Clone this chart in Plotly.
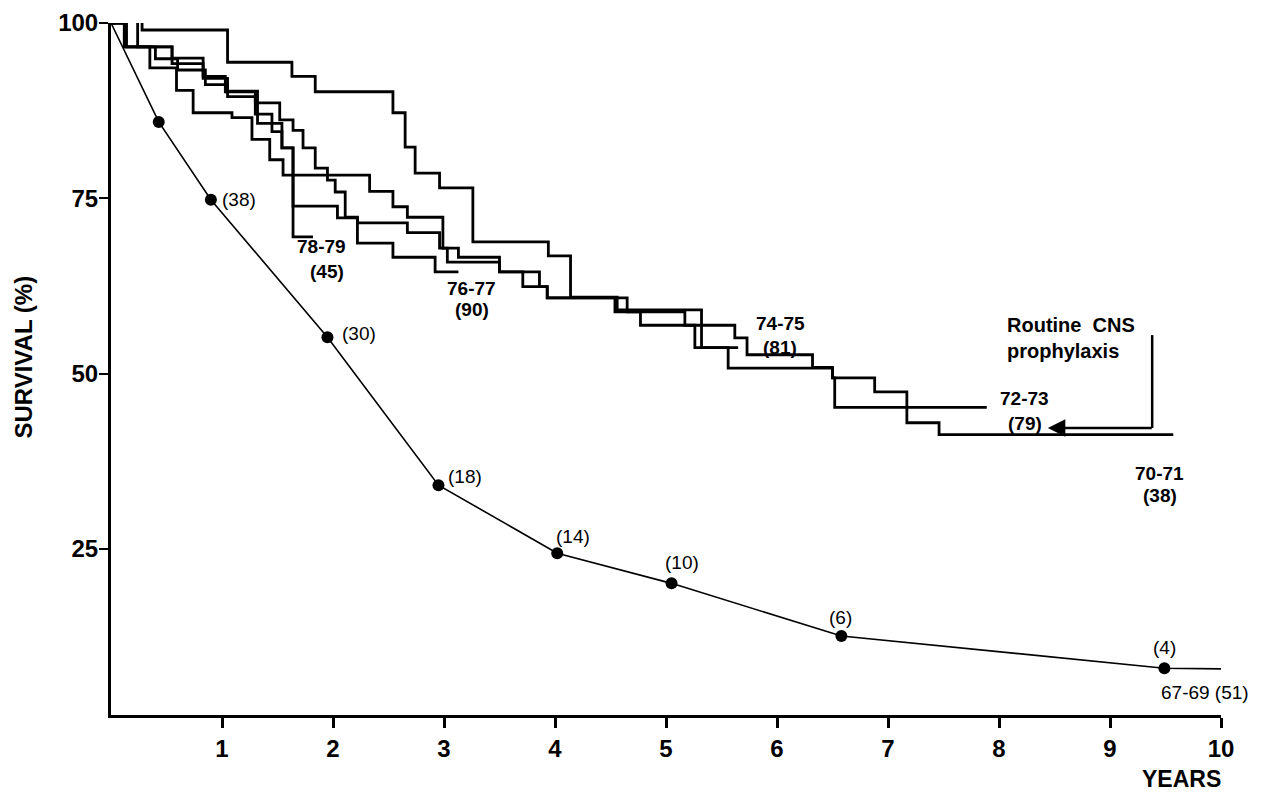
import plotly.graph_objects as go

# ---- data ----
# Kaplan-Meier style step curves (years, survival %)
t_7071 = [0, 0.03, 0.28, 1.05, 1.63, 1.84, 2.54, 2.65, 2.74, 2.96, 3.26, 3.94, 4.14, 4.56, 5.32, 5.56, 6.50, 6.88, 7.17, 7.46]
s_7071 = [100, 100.8, 99.0, 94.4, 92.4, 90.2, 87.2, 82.3, 78.6, 76.5, 68.8, 66.8, 60.9, 59.1, 53.7, 50.8, 49.4, 47.4, 43.0, 41.3]
end_7071 = 9.57

t_7273 = [0, 0.12, 0.35, 0.59, 0.74, 1.09, 1.27, 1.43, 1.55, 2.33, 2.54, 2.67, 2.99, 3.13, 3.50, 3.86, 3.93, 4.54, 4.77, 5.62, 5.73, 6.32, 6.50, 6.52]
s_7273 = [100, 96.6, 93.6, 90.4, 87.2, 86.5, 83.4, 80.5, 78.3, 76.0, 73.8, 72.3, 67.9, 66.6, 64.5, 62.4, 60.8, 58.8, 56.9, 55.1, 52.7, 50.9, 49.4, 45.2]
end_7273 = 7.89

t_7475 = [0, 0.03, 0.24, 0.55, 0.83, 1.03, 1.30, 1.52, 1.64, 1.73, 1.84, 1.95, 2.02, 2.11, 2.22, 2.67, 2.96, 3.03, 3.50, 3.71, 3.93, 4.65, 5.17, 5.26]
s_7475 = [100, 100.8, 96.6, 95.0, 92.4, 90.2, 88.6, 86.2, 84.7, 82.2, 79.3, 77.6, 75.9, 72.3, 71.5, 70.1, 67.9, 65.9, 64.5, 62.4, 60.8, 58.8, 56.9, 53.7]
end_7475 = 5.65

t_7677 = [0, 0.14, 0.40, 0.60, 0.85, 1.05, 1.30, 1.45, 1.54, 1.64, 2.04, 2.22, 2.54, 2.92]
s_7677 = [100, 96.6, 94.9, 93.3, 91.2, 89.5, 87.0, 84.5, 82.2, 73.9, 72.2, 68.6, 66.6, 64.5]
end_7677 = 3.13

t_7879 = [0, 0.12, 0.55, 0.83, 1.05, 1.32, 1.54, 1.64]
s_7879 = [100, 96.6, 94.2, 92.1, 90.3, 85.7, 82.2, 69.5]
end_7879 = 1.82

# 1967-69 actuarial curve with numbers at risk
t_6769 = [0, 0.43, 0.90, 1.95, 2.95, 4.02, 5.05, 6.58, 9.49, 10.0]
s_6769 = [100, 85.9, 74.8, 55.2, 34.1, 24.4, 20.1, 12.6, 8.0, 7.9]
risk_labels = ["(38)", "(30)", "(18)", "(14)", "(10)", "(6)", "(4)"]
risk_label_x = [1.15, 2.23, 3.19, 4.16, 5.14, 6.57, 9.49]
risk_label_y = [74.9, 55.7, 35.4, 26.8, 23.1, 15.2, 10.9]

# curve labels
group_labels = ["78-79", "(45)", "76-77", "(90)", "74-75", "(81)", "72-73", "(79)", "70-71", "(38)"]
group_label_x = [1.90, 1.95, 3.25, 3.25, 6.03, 6.03, 8.23, 8.23, 9.45, 9.45]
group_label_y = [68.1, 64.6, 62.2, 59.1, 57.2, 53.8, 46.4, 42.9, 35.7, 32.6]

x_ticks = [1, 2, 3, 4, 5, 6, 7, 8, 9, 10]
y_ticks = [25, 50, 75, 100]

fig = go.Figure()

BOLD = "Liberation Sans, Arial, sans-serif"
PLAIN = "Liberation Sans, Arial, sans-serif"

for t, s, e in [(t_7071, s_7071, end_7071), (t_7273, s_7273, end_7273),
                (t_7475, s_7475, end_7475), (t_7677, s_7677, end_7677),
                (t_7879, s_7879, end_7879)]:
    fig.add_trace(go.Scatter(x=t + [e], y=s + [s[-1]], mode="lines",
                             line=dict(color="black", width=2.8, shape="hv"),
                             cliponaxis=False, showlegend=False, hoverinfo="skip"))

fig.add_trace(go.Scatter(x=t_6769, y=s_6769, mode="lines",
                         line=dict(color="black", width=1.6),
                         cliponaxis=False, showlegend=False, hoverinfo="skip"))
fig.add_trace(go.Scatter(x=t_6769[1:-1], y=s_6769[1:-1], mode="markers",
                         marker=dict(color="black", size=12),
                         cliponaxis=False, showlegend=False, hoverinfo="skip"))

for txt, x, y in zip(risk_labels, risk_label_x, risk_label_y):
    fig.add_annotation(x=x, y=y, text=txt, showarrow=False,
                       font=dict(family=PLAIN, size=19, color="black"))
fig.add_annotation(x=9.86, y=4.6, text="67-69 (51)", showarrow=False,
                   font=dict(family=PLAIN, size=19, color="black"))

for txt, x, y in zip(group_labels, group_label_x, group_label_y):
    fig.add_annotation(x=x, y=y, text=txt, showarrow=False,
                       font=dict(family=BOLD, size=19, color="black", weight="bold"))

# Routine CNS prophylaxis marker
fig.add_annotation(x=8.05, y=56.9, text="Routine  CNS", showarrow=False, xanchor="left",
                   font=dict(family=BOLD, size=20, color="black", weight="bold"))
fig.add_annotation(x=8.05, y=53.2, text="prophylaxis", showarrow=False, xanchor="left",
                   font=dict(family=BOLD, size=20, color="black", weight="bold"))
fig.add_shape(type="line", x0=9.38, x1=9.38, y0=55.5, y1=42.25,
              line=dict(color="black", width=2.5))
fig.add_annotation(x=8.44, y=42.25, ax=9.39, ay=42.25, axref="x", ayref="y",
                   text="", showarrow=True, arrowhead=2, arrowsize=1.4,
                   arrowwidth=2.5, arrowcolor="black")

# axis titles
fig.add_annotation(xref="paper", yref="paper", x=-0.079, y=0.517, text="SURVIVAL (%)",
                   textangle=-90, showarrow=False, xanchor="center", yanchor="middle",
                   font=dict(family=BOLD, size=24, color="black", weight="bold"))
fig.add_annotation(xref="paper", yref="paper", x=1.002, y=-0.092, text="YEARS",
                   showarrow=False, xanchor="right", yanchor="middle",
                   font=dict(family=BOLD, size=23, color="black", weight="bold"))

fig.update_xaxes(range=[0, 10], tickvals=x_ticks, ticktext=[str(v) for v in x_ticks],
                 showline=True, linecolor="black", linewidth=3, ticks="outside",
                 ticklen=10, tickwidth=2.5, tickcolor="black", showgrid=False,
                 zeroline=False, ticklabelstandoff=0, automargin=False,
                 tickfont=dict(family=BOLD, size=24, color="black", weight="bold"))
fig.update_yaxes(range=[1.33, 100], tickvals=y_ticks, ticktext=[str(v) for v in y_ticks],
                 showline=True, linecolor="black", linewidth=3, ticks="outside",
                 ticklen=9, tickwidth=2, tickcolor="black", showgrid=False,
                 zeroline=False, ticklabelstandoff=-4, automargin=False,
                 tickfont=dict(family=BOLD, size=24, color="black", weight="bold"))

# the page body adds an 8px offset, so the figure is sized to fit the window
fig.update_layout(width=1256, height=788, plot_bgcolor="white", paper_bgcolor="white",
                  margin=dict(l=103, r=43, t=15, b=81), showlegend=False)

fig.write_html("out.html")
